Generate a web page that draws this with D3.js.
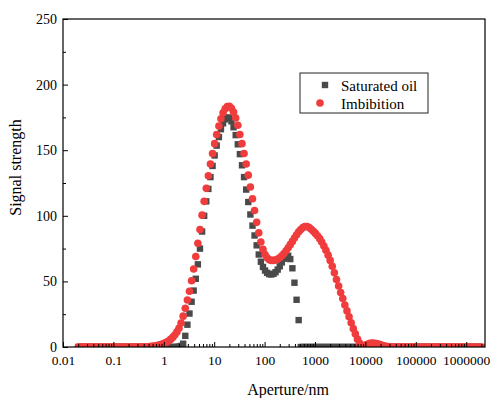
<!DOCTYPE html>
<html>
<head>
<meta charset="utf-8">
<script src="https://cdn.jsdelivr.net/npm/d3@7"></script>
<style>
  body { margin: 0; background: #fff; }
</style>
</head>
<body>
<svg id="chart" width="491" height="398"></svg>
<script>

// aperture grid (nm), 24 points per decade
const aperture = [
  0.0200, 0.0220, 0.0242, 0.0267, 0.0294, 0.0323, 0.0356, 0.0391, 0.0431, 0.0474, 0.0522, 0.0575, 0.0632, 0.0696, 0.0766, 0.0843, 0.0928, 0.102, 0.112, 0.124, 0.136, 0.150, 0.165, 0.182,
  0.200, 0.220, 0.242, 0.267, 0.294, 0.323, 0.356, 0.391, 0.431, 0.474, 0.522, 0.575, 0.632, 0.696, 0.766, 0.843, 0.928, 1.02, 1.12, 1.24, 1.36, 1.50, 1.65, 1.82,
  2.00, 2.20, 2.42, 2.67, 2.94, 3.23, 3.56, 3.91, 4.31, 4.74, 5.22, 5.75, 6.32, 6.96, 7.66, 8.43, 9.28, 10.2, 11.2, 12.4, 13.6, 15.0, 16.5, 18.2,
  20.0, 22.0, 24.2, 26.7, 29.4, 32.3, 35.6, 39.1, 43.1, 47.4, 52.2, 57.5, 63.2, 69.6, 76.6, 84.3, 92.8, 102, 112, 124, 136, 150, 165, 182,
  200, 220, 242, 267, 294, 323, 356, 391, 431, 474, 522, 575, 632, 696, 766, 843, 928, 1020, 1120, 1240, 1360, 1500, 1650, 1820,
  2000, 2200, 2420, 2670, 2940, 3230, 3560, 3910, 4310, 4740, 5220, 5750, 6320, 6960, 7660, 8430, 9280, 10200, 11200, 12400, 13600, 15000, 16500, 18200,
  20000, 22000, 24200, 26700, 29400, 32300, 35600, 39100, 43100, 47400, 52200, 57500, 63200, 69600, 76600, 84300, 92800, 102000, 112000, 124000, 136000, 150000, 165000, 182000,
  200000, 220000, 242000, 267000, 294000, 323000, 356000, 391000, 431000, 474000, 522000, 575000, 632000, 696000, 766000, 843000, 928000, 1020000, 1120000, 1240000, 1360000, 1500000, 1650000, 1820000,
  2000000
];

const saturatedOil = [
  0, 0, 0, 0, 0, 0, 0, 0, 0, 0, 0, 0, 0, 0, 0, 0, 0, 0, 0, 0, 0, 0, 0, 0,
  0, 0, 0, 0, 0, 0, 0, 0, 0, 0, 0, 0, 0, 0, 0, 0, 0, 0, 0, 0, 0, 0, 0, 0.1,
  0.3, 0.8, 2.5, 8.5, 17, 25.5, 34.5, 43, 52, 63, 75, 88, 100, 111, 120.5, 129.5, 138, 146, 153.5, 160, 166, 170.5, 173.5, 175,
  174.5, 172, 167.5, 161.5, 154.5, 147, 138.5, 129.5, 120, 110.5, 101, 92.5, 85, 77.5, 70.5, 65, 61, 58.3, 56.5, 55.5, 55.3, 55.8, 57, 59,
  61.5, 64.5, 67.3, 69, 69.5, 67, 60, 49, 36, 20.5, 0, 0, 0, 0, 0, 0, 0, 0, 0, 0, 0, 0, 0, 0,
  0, 0, 0, 0, 0, 0, 0, 0, 0, 0, 0, 0, 0, 0, 0, 0, 0, 0, 0, 0, 0, 0, 0, 0,
  0, 0, 0, 0, 0, 0, 0, 0, 0, 0, 0, 0, 0, 0, 0, 0, 0, 0, 0, 0, 0, 0, 0, 0,
  0, 0, 0, 0, 0, 0, 0, 0, 0, 0, 0, 0, 0, 0, 0, 0, 0, 0, 0, 0, 0, 0, 0, 0,
  0
];

const imbibition = [
  0, 0, 0, 0, 0, 0, 0, 0, 0, 0, 0, 0, 0, 0, 0, 0, 0, 0, 0, 0, 0, 0, 0, 0,
  0, 0, 0, 0, 0, 0, 0, 0, 0, 0, 0.3, 0.5, 0.7, 1.0, 1.3, 1.7, 2.2, 2.8, 3.6, 4.6, 5.8, 7.3, 9.2, 11.5,
  14.3, 18.2, 23.5, 29.5, 35.8, 42.5, 50.5, 59.5, 69, 79, 89.5, 100.5, 111, 121, 130.5, 139.5, 147.5, 155, 162, 168.5, 174, 178.5, 181.5, 183.3,
  183.5, 182, 179, 174.5, 169, 162, 155, 147.5, 139.5, 131, 122, 113, 104, 95, 87, 80, 74.5, 70.5, 68, 66.5, 66, 66, 66.3, 67,
  68, 69.5, 71.3, 73.3, 75.6, 78, 80.5, 83, 85.5, 87.8, 89.6, 91, 91.8, 91.8, 91, 89.8, 88.2, 86.6, 84.8, 82.6, 80, 77, 73.7, 70,
  66, 61.5, 56.5, 51.5, 46.5, 41.5, 37, 32, 27.5, 23, 18.5, 14, 10, 6, 3, 1.2, 1.0, 1.6, 2.3, 2.8, 3.0, 2.9, 2.6, 2.2,
  1.7, 1.2, 0.8, 0.4, 0.2, 0, 0, 0, 0, 0, 0, 0, 0, 0, 0, 0, 0, 0, 0, 0, 0, 0, 0, 0,
  0, 0, 0, 0, 0, 0, 0, 0, 0, 0, 0, 0, 0, 0, 0, 0, 0, 0, 0, 0, 0, 0, 0, 0,
  0
];

const seriesNames = ["Saturated oil", "Imbibition"];
const xTicks = [0.01, 0.1, 1, 10, 100, 1000, 10000, 100000, 1000000];
const xTickLabels = ["0.01", "0.1", "1", "10", "100", "1000", "10000", "100000", "1000000"];
const yTicks = [0, 50, 100, 150, 200, 250];
const yMinorTicks = [25, 75, 125, 175, 225];

const svg = d3.select("#chart");
const plotLeft = 63, plotRight = 485, plotTop = 19, plotBottom = 347;
const serif = "'Liberation Serif', 'Times New Roman', Times, serif";

let x = d3.scaleLog().domain([0.01, 2.36e6]).range([plotLeft, plotRight]);
let y = d3.scaleLinear().domain([0, 250]).range([plotBottom, plotTop]);

// minor ticks 2..9 in each decade
let xMinor = [];
for (let d of xTicks) {
  for (let m = 2; m <= 9; m++) {
    if (d * m < x.domain()[1]) xMinor.push(d * m);
  }
}

svg.append("defs").append("clipPath").attr("id", "plotclip")
  .append("rect")
  .attr("x", plotLeft).attr("y", plotTop)
  .attr("width", plotRight - plotLeft).attr("height", plotBottom - plotTop);

// data
let marks = svg.append("g").attr("clip-path", "url(#plotclip)");
let sq = 6.4;

marks.selectAll("rect.sat")
  .data(aperture.map((a, i) => [a, saturatedOil[i]]))
  .enter().append("rect")
  .attr("class", "sat")
  .attr("x", d => x(d[0]) - sq / 2)
  .attr("y", d => y(d[1]) - sq / 2)
  .attr("width", sq).attr("height", sq)
  .attr("fill", "#4a4a4a");

marks.selectAll("circle.imb")
  .data(aperture.map((a, i) => [a, imbibition[i]]))
  .enter().append("circle")
  .attr("class", "imb")
  .attr("cx", d => x(d[0]))
  .attr("cy", d => y(d[1]))
  .attr("r", 3.8)
  .attr("fill", "#f03c3c");

// axes (ticks point inward)
let xAxis = svg.append("g")
  .attr("transform", `translate(0,${plotBottom})`)
  .call(d3.axisBottom(x).tickValues(xTicks)
    .tickFormat((d, i) => xTickLabels[i])
    .tickSizeInner(-5).tickSizeOuter(0).tickPadding(8.5));
xAxis.select(".domain").remove();
xAxis.selectAll("text").attr("font-size", 13.5).attr("fill", "#000");

let xMinorAxis = svg.append("g")
  .attr("transform", `translate(0,${plotBottom})`)
  .call(d3.axisBottom(x).tickValues(xMinor).tickFormat("").tickSizeInner(-3).tickSizeOuter(0));
xMinorAxis.select(".domain").remove();

let yAxis = svg.append("g")
  .attr("transform", `translate(${plotLeft},0)`)
  .call(d3.axisLeft(y).tickValues(yTicks)
    .tickSizeInner(-5).tickSizeOuter(0).tickPadding(6));
yAxis.select(".domain").remove();
yAxis.selectAll("text").attr("font-size", 14).attr("fill", "#000");

let yMinorAxis = svg.append("g")
  .attr("transform", `translate(${plotLeft},0)`)
  .call(d3.axisLeft(y).tickValues(yMinorTicks).tickFormat("").tickSizeInner(-3).tickSizeOuter(0));
yMinorAxis.select(".domain").remove();

svg.selectAll(".tick line").attr("stroke", "#000").attr("stroke-width", 1);

// frame
svg.append("rect")
  .attr("x", plotLeft).attr("y", plotTop)
  .attr("width", plotRight - plotLeft).attr("height", plotBottom - plotTop)
  .attr("fill", "none")
  .attr("stroke", "#000")
  .attr("stroke-width", 1.2);

// axis titles
svg.append("text")
  .attr("x", 288).attr("y", 395)
  .attr("text-anchor", "middle")
  .attr("font-size", 16)
  .text("Aperture/nm");

svg.append("text")
  .attr("transform", "translate(21,167.5) rotate(-90)")
  .attr("text-anchor", "middle")
  .attr("font-size", 16)
  .text("Signal strength");

// legend
let legend = svg.append("g");
legend.append("rect")
  .attr("x", 300).attr("y", 73)
  .attr("width", 128).attr("height", 40)
  .attr("fill", "#fff")
  .attr("stroke", "#222")
  .attr("stroke-width", 1);

legend.append("rect")
  .attr("x", 325 - sq / 2).attr("y", 85 - sq / 2)
  .attr("width", sq).attr("height", sq)
  .attr("fill", "#4a4a4a");
legend.append("circle")
  .attr("cx", 320).attr("cy", 103)
  .attr("r", 3.8)
  .attr("fill", "#f03c3c");

legend.selectAll("text.lbl")
  .data(seriesNames)
  .enter().append("text")
  .attr("class", "lbl")
  .attr("x", 341)
  .attr("y", (d, i) => 90.5 + i * 18)
  .attr("font-size", 15)
  .text(d => d);

// every label in Times-like serif
svg.selectAll("text").style("font-family", serif);

</script>
</body>
</html>
